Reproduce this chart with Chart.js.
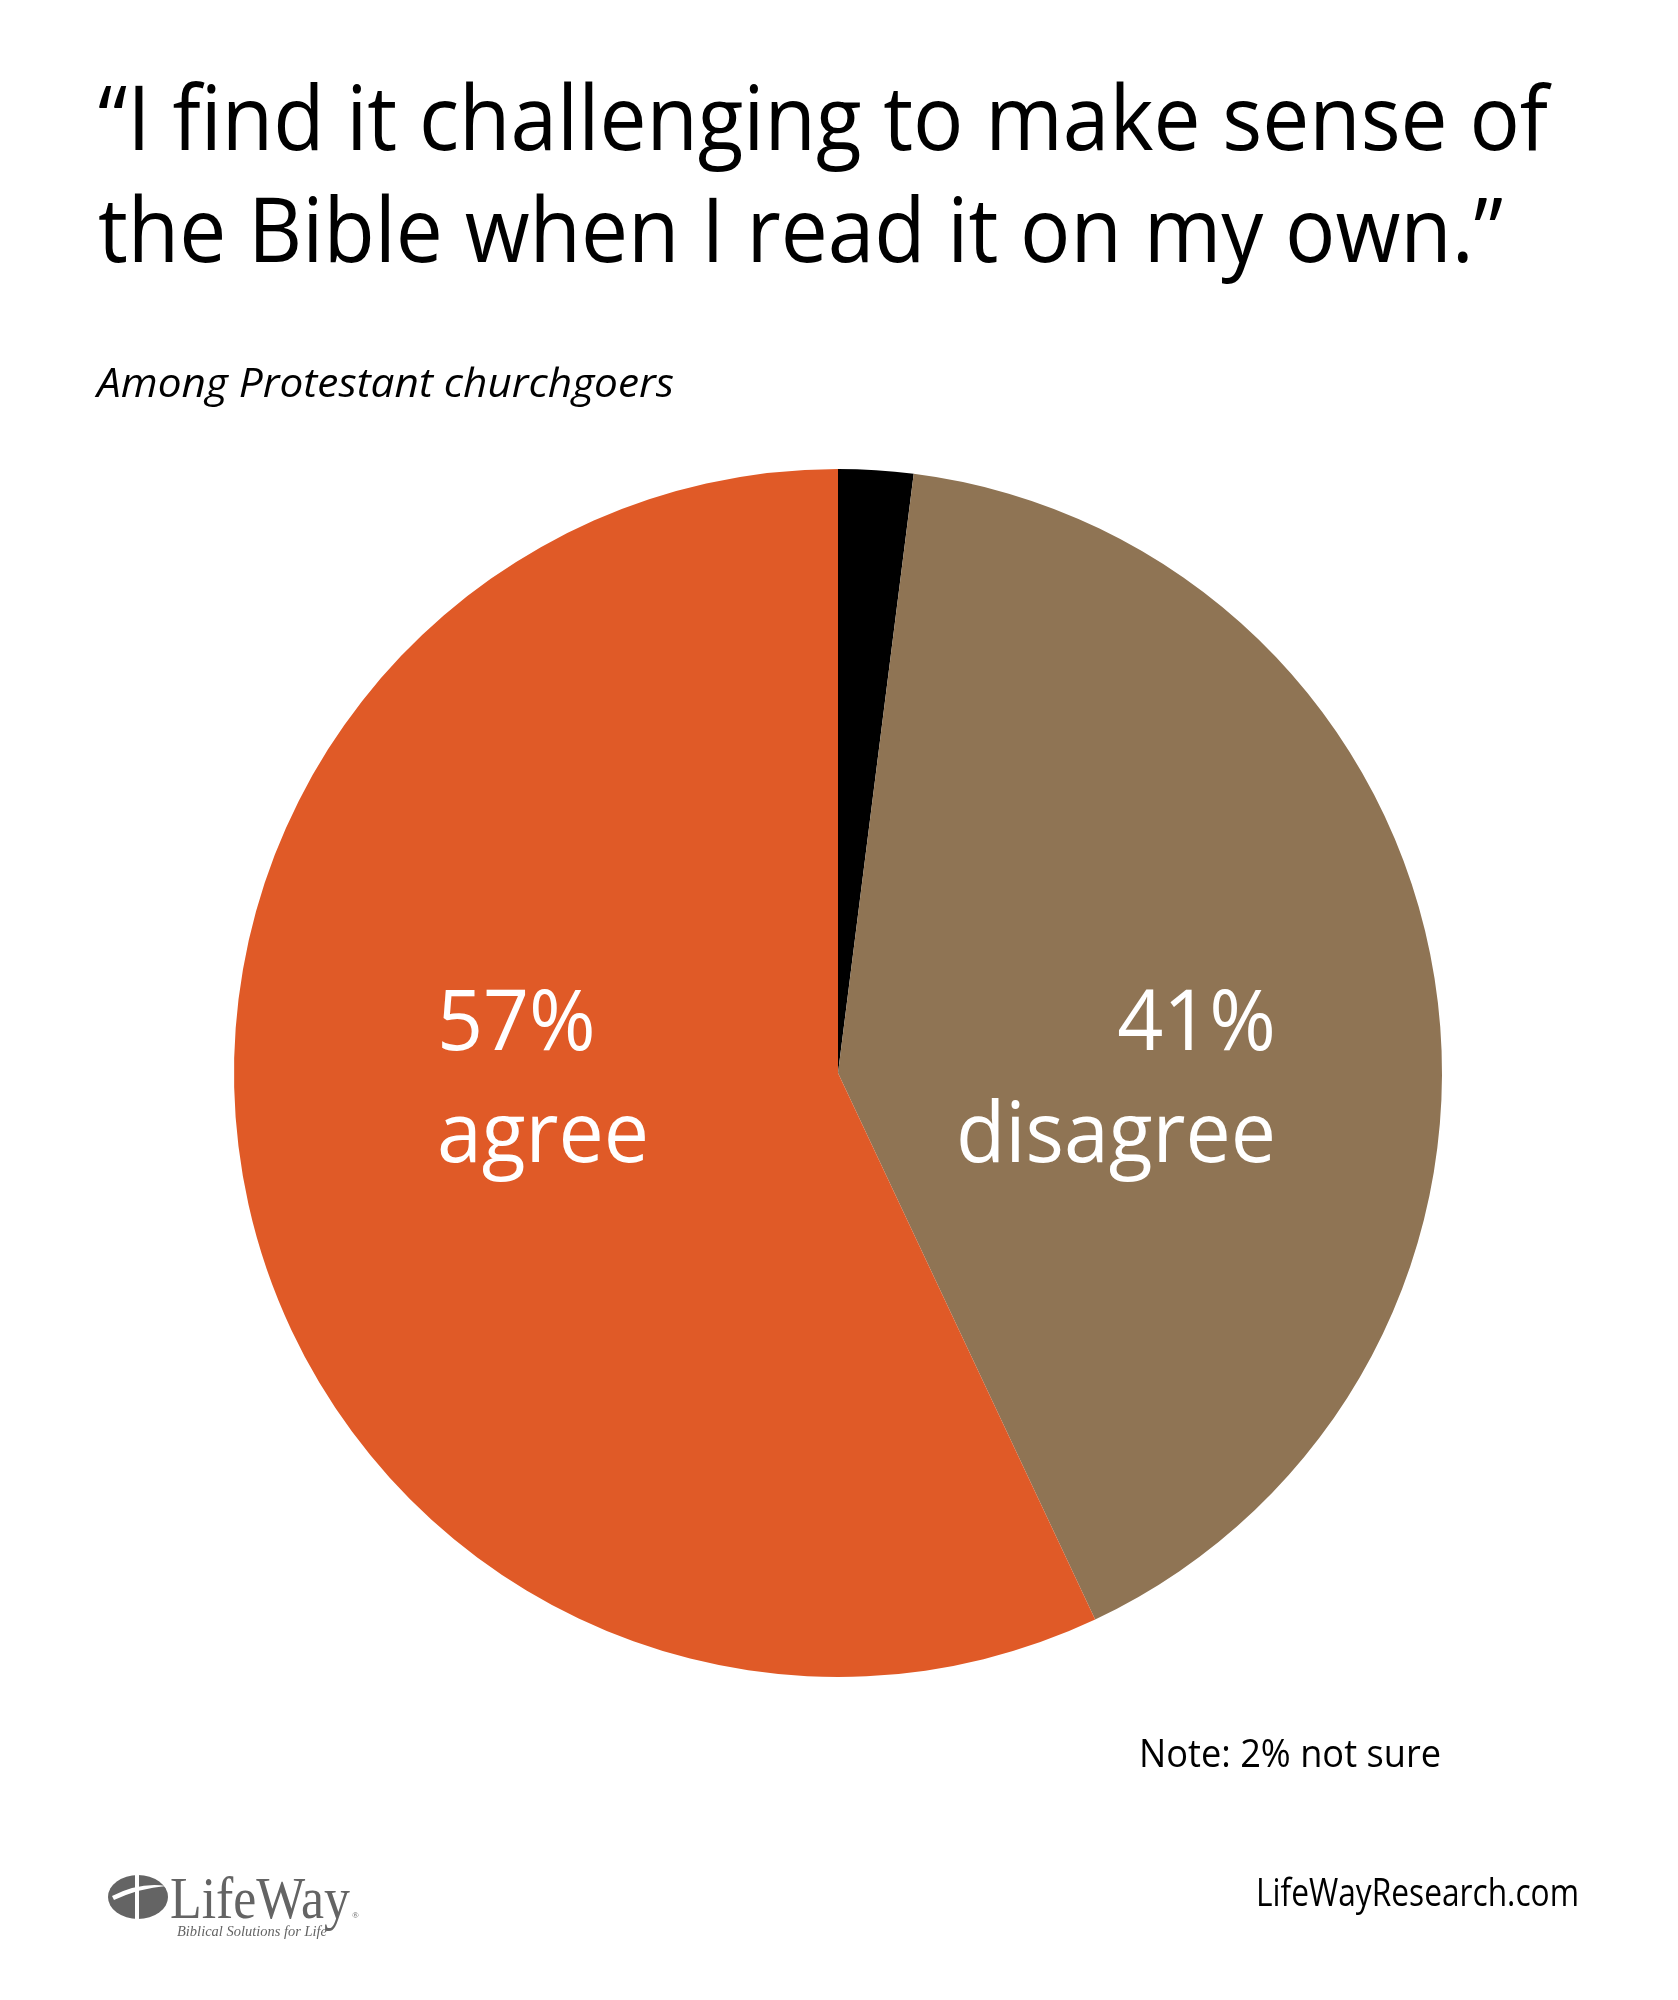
<!DOCTYPE html>
<html>
<head>
<meta charset="utf-8">
<script src="https://cdn.jsdelivr.net/npm/chart.js@4/dist/chart.umd.min.js"></script>
<style>
  html, body { margin: 0; padding: 0; background: #ffffff; }
  #wrap { position: relative; width: 1678px; height: 2000px; }
</style>
</head>
<body>
<div id="wrap"><canvas id="c" width="1678" height="2000"></canvas></div>
<script>
// ---- data ----
const categories = ['not sure', 'disagree', 'agree'];
const values = [2, 41, 57];
const sliceColors = ['#000000', '#8F7454', '#E05A27'];
const titleLines = ['\u201CI find it challenging to make sense of', 'the Bible when I read it on my own.\u201D'];
const subtitle = 'Among Protestant churchgoers';
const note = 'Note: 2% not sure';
const source = 'LifeWayResearch.com';

const FAMILY = '"Open Sans", "Noto Sans", sans-serif';

function drawText(ctx, text, x, y, size, style, family, color, align, sx) {
  ctx.save();
  ctx.font = `${style} ${size}px ${family}`;
  ctx.fillStyle = color;
  ctx.textAlign = align || 'left';
  ctx.textBaseline = 'alphabetic';
  ctx.translate(x, y);
  ctx.scale(sx || 1, 1);
  ctx.fillText(text, 0, 0);
  ctx.restore();
}
function scaleFor(ctx, text, size, style, family, targetW) {
  ctx.save();
  ctx.font = `${style} ${size}px ${family}`;
  const w = ctx.measureText(text).width;
  ctx.restore();
  return targetW / w;
}

const decorPlugin = {
  id: 'decor',
  afterDraw(chart) {
    const ctx = chart.ctx;
    // Title
    const tSize = 90;
    const tsx = scaleFor(ctx, titleLines[0], tSize, 'normal', FAMILY, 1450);
    drawText(ctx, titleLines[0], 98, 150, tSize, 'normal', FAMILY, '#000', 'left', tsx);
    drawText(ctx, titleLines[1], 98, 262, tSize, 'normal', FAMILY, '#000', 'left', tsx);
    // Subtitle
    const sSize = 41;
    const ssx = scaleFor(ctx, subtitle, sSize, 'italic', FAMILY, 577);
    drawText(ctx, subtitle, 97, 397, sSize, 'italic', FAMILY, '#000', 'left', ssx);

    // Slice labels (positioned relative to pie geometry)
    const meta = chart.getDatasetMeta(0);
    const arc = meta.data[0];
    const cx = arc.x, cy = arc.y, r = arc.outerRadius;
    const lSize = 85;
    // agree (index 2) - left side
    const a1 = `${values[2]}%`, a2 = categories[2];
    const asx = scaleFor(ctx, a2, lSize, 'normal', FAMILY, 212);
    drawText(ctx, a1, cx - 0.664 * r, cy - 0.038 * r, lSize, 'normal', FAMILY, '#fff', 'left', asx);
    drawText(ctx, a2, cx - 0.664 * r, cy + 0.147 * r, lSize, 'normal', FAMILY, '#fff', 'left', asx);
    // disagree (index 1) - right side
    const d1 = `${values[1]}%`, d2 = categories[1];
    const dsx = scaleFor(ctx, d2, lSize, 'normal', FAMILY, 320);
    drawText(ctx, d1, cx + 0.725 * r, cy - 0.038 * r, lSize, 'normal', FAMILY, '#fff', 'right', dsx);
    drawText(ctx, d2, cx + 0.725 * r, cy + 0.147 * r, lSize, 'normal', FAMILY, '#fff', 'right', dsx);

    // Note & source
    const nSize = 38;
    const nsx = scaleFor(ctx, note, nSize, 'normal', FAMILY, 302);
    drawText(ctx, note, 1139, 1767, nSize, 'normal', FAMILY, '#000', 'left', nsx);
    const csx = scaleFor(ctx, source, nSize, 'normal', FAMILY, 323);
    drawText(ctx, source, 1579, 1906, nSize, 'normal', FAMILY, '#000', 'right', csx);

    // Logo
    ctx.save();
    ctx.fillStyle = '#646464';
    ctx.beginPath();
    ctx.ellipse(138, 1897, 30, 22, 0, 0, Math.PI * 2);
    ctx.fill();
    ctx.fillStyle = '#ffffff';
    ctx.fillRect(135, 1874, 4, 46);
    ctx.beginPath();
    ctx.moveTo(112, 1896);
    ctx.quadraticCurveTo(140, 1882, 166, 1886);
    ctx.quadraticCurveTo(140, 1888, 114, 1900);
    ctx.closePath();
    ctx.fill();
    ctx.restore();
    const lgFamily = '"Liberation Serif", "DejaVu Serif", serif';
    const lsx = scaleFor(ctx, 'LifeWay', 60, 'normal', lgFamily, 180);
    drawText(ctx, 'LifeWay', 170, 1918, 60, 'normal', lgFamily, '#646464', 'left', lsx);
    drawText(ctx, '\u00AE', 352, 1918, 9, 'normal', lgFamily, '#646464', 'left', 1);
    const bsx = scaleFor(ctx, 'Biblical Solutions for Life', 15, 'italic', lgFamily, 150);
    drawText(ctx, 'Biblical Solutions for Life', 177, 1936, 15, 'italic', lgFamily, '#646464', 'left', bsx);
  }
};

new Chart(document.getElementById('c'), {
  type: 'pie',
  data: {
    labels: categories,
    datasets: [{
      data: values,
      backgroundColor: sliceColors,
      borderWidth: 0,
      hoverOffset: 0
    }]
  },
  options: {
    responsive: false,
    devicePixelRatio: 1,
    animation: false,
    rotation: 0,
    layout: { padding: { left: 234, right: 236, top: 469, bottom: 323 } },
    plugins: {
      legend: { display: false },
      tooltip: { enabled: false },
      title: { display: false }
    },
    events: []
  },
  plugins: [decorPlugin]
});
</script>
</body>
</html>
